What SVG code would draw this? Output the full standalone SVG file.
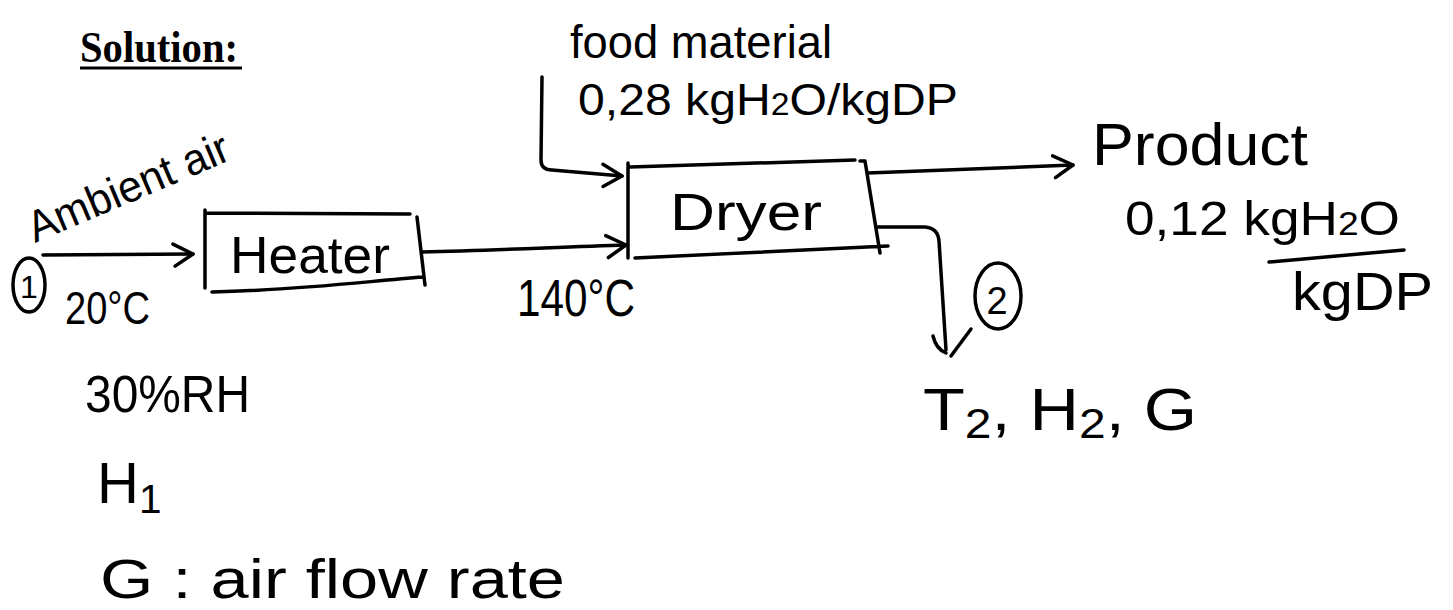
<svg xmlns="http://www.w3.org/2000/svg" width="1453" height="610" viewBox="0 0 1453 610">
<style>
  .ln { fill: none; stroke: #000; stroke-width: 3.5; stroke-linecap: round; stroke-linejoin: round; }
  .hw { font-family: "Liberation Sans", "DejaVu Sans", sans-serif; fill: #000; }
  .sub { font-size: 0.7em; }
</style>
<defs>
  <marker id="arr" markerUnits="userSpaceOnUse" markerWidth="28" markerHeight="30" refX="22" refY="12" orient="auto" overflow="visible">
    <path d="M2,2 L22,12 L4,24" fill="none" stroke="#000" stroke-width="3.5" stroke-linecap="round" stroke-linejoin="round"/>
  </marker>
</defs>
<rect width="1453" height="610" fill="#fff"/>

<g id="title">
  <text x="80" y="62" font-family="'Liberation Serif', 'Times New Roman', serif" font-weight="bold" font-size="44" textLength="158" lengthAdjust="spacingAndGlyphs">Solution:</text>
  <line x1="80" y1="68" x2="242" y2="68" stroke="#000" stroke-width="3"/>
</g>

<g id="connectors">
  <path class="ln" d="M43,255 L193,254" marker-end="url(#arr)"/>
  <path class="ln" d="M422,252 C500,250 560,247 626,245" marker-end="url(#arr)"/>
  <path class="ln" d="M542,77 L541,160 Q541,170 552,170 L622,176" marker-end="url(#arr)"/>
  <path class="ln" d="M868,173 L1073,165" marker-end="url(#arr)"/>
  <path class="ln" d="M878,227 L925,227 Q938,228 939,241 L946,350"/>
  <path class="ln" d="M933,336 Q936,349 946,353"/>
  <path class="ln" d="M971,329 L951,356"/>
</g>

<g id="heater">
  <path class="ln" d="M205,210 L205,288 M205,213 L410,214 M417,217 L425,285 M212,292 C300,290 360,282 423,277"/>
  <text class="hw" x="230" y="273" font-size="52" textLength="160" lengthAdjust="spacingAndGlyphs">Heater</text>
</g>

<g id="dryer">
  <path class="ln" d="M628,163 L628,258 M630,167 L855,160 M860,161 L865,161 L880,253 M635,258 L888,246"/>
  <text class="hw" x="670" y="230" font-size="52" textLength="152" lengthAdjust="spacingAndGlyphs">Dryer</text>
</g>

<g id="state1">
  <ellipse class="ln" cx="29" cy="285" rx="16" ry="27"/>
  <text class="hw" x="29" y="298" font-size="32" text-anchor="middle">1</text>
</g>

<g id="state2">
  <ellipse class="ln" cx="998" cy="296" rx="23" ry="33"/>
  <text class="hw" x="997" y="314" font-size="38" text-anchor="middle">2</text>
</g>

<g id="labels">
  <text class="hw" x="35" y="243" font-size="44" textLength="215" lengthAdjust="spacingAndGlyphs" transform="rotate(-23 35 243)">Ambient air</text>
  <text class="hw" x="570" y="58" font-size="46" textLength="262" lengthAdjust="spacingAndGlyphs">food material</text>
  <text class="hw" x="578" y="115" font-size="44" textLength="380" lengthAdjust="spacingAndGlyphs">0,28 kgH<tspan class="sub">2</tspan>O/kgDP</text>
  <text class="hw" x="65" y="324" font-size="46" textLength="85" lengthAdjust="spacingAndGlyphs">20°C</text>
  <text class="hw" x="517" y="316" font-size="52" textLength="118" lengthAdjust="spacingAndGlyphs">140°C</text>
  <text class="hw" x="1092" y="165" font-size="60" textLength="216" lengthAdjust="spacingAndGlyphs">Product</text>
  <text class="hw" x="1125" y="235" font-size="48" textLength="275" lengthAdjust="spacingAndGlyphs">0,12 kgH<tspan class="sub">2</tspan>O</text>
  <path class="ln" d="M1269,262 L1404,250"/>
  <text class="hw" x="1292" y="310" font-size="54" textLength="141" lengthAdjust="spacingAndGlyphs">kgDP</text>
  <text class="hw" x="923" y="430" font-size="60" textLength="274" lengthAdjust="spacingAndGlyphs">T<tspan class="sub" dy="8">2</tspan><tspan dy="-8">, H</tspan><tspan class="sub" dy="8">2</tspan><tspan dy="-8">, G</tspan></text>
  <text class="hw" x="85" y="412" font-size="52" textLength="165" lengthAdjust="spacingAndGlyphs">30%RH</text>
  <text class="hw" x="97" y="503" font-size="58">H<tspan class="sub" dy="10">1</tspan></text>
  <text class="hw" x="100" y="598" font-size="56" textLength="465" lengthAdjust="spacingAndGlyphs">G : air flow rate</text>
</g>
</svg>
